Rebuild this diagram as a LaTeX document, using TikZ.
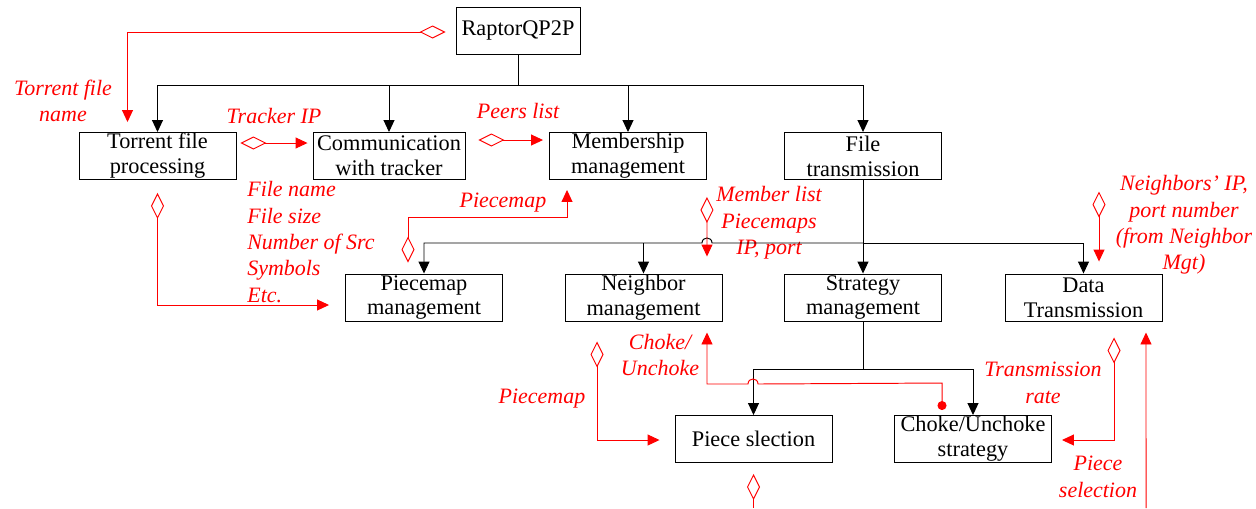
\documentclass[tikz,border=0pt]{standalone}
\usepackage{fontspec}
\setmainfont{Liberation Serif}
\usetikzlibrary{arrows.meta}

\begin{document}
\begin{tikzpicture}
  [x=0.02cm,y=-0.02cm,line width=0.55pt,
  box/.style={draw,minimum width=3.14cm,minimum height=0.94cm,inner sep=0pt,
    align=center,font=\fontsize{12.7}{14.2}\selectfont},
  lbl/.style={red,align=center,font=\fontsize{12.5}{15}\selectfont\itshape},
  >={Triangle[length=0.24cm,width=0.22cm]}]

\tikzset{msg/.style={red,{Diamond[open,length=0.52cm,width=0.26cm]}->},
  msgin/.style={red,->},
  msgout/.style={red,{Diamond[open,length=0.52cm,width=0.26cm]}-},
  msgdot/.style={red,{Circle[length=0.18cm]}->}}

\useasboundingbox (0,0) rectangle (1256,508);

\node[box,minimum width=2.48cm] (raptor) at (518,30.5) {RaptorQP2P};
\node[box] (tfp) at (157.5,156) {Torrent file\\processing};
\node[box,minimum width=3.04cm] (cwt) at (389,156) {Communication\\with tracker};
\node[box] (mem) at (628,156) {Membership\\management};
\node[box] (ftr) at (863,156) {File\\transmission};
\node[box] (pmm) at (424,297.5) {Piecemap\\management};
\node[box] (nbm) at (643.5,297.5) {Neighbor\\management};
\node[box] (stm) at (863,297.5) {Strategy\\management};
\node[box] (dtr) at (1083.5,297.5) {Data\\Transmission};
\node[box] (psl) at (753.5,439) {Piece slection};
\node[box] (cus) at (973,439) {Choke/Unchoke\\strategy};

\node[lbl] (tfname) at (63,101) {Torrent file\\name};
\node[lbl] (trip) at (274,116) {Tracker IP};
\node[lbl] (peers) at (518,111) {Peers list};
\node[lbl,align=left,anchor=west] (tfinfo) at (241,242) {File name\\File size\\Number of Src\\Symbols\\Etc.};
\node[lbl] (pmap1) at (503,203) {Piecemap};
\node[lbl] (mlist) at (769,223) {Member list\\Piecemaps\\IP, port};
\node[lbl] (nbip) at (1184,225) {Neighbors' IP,\\port number\\(from Neighbor\\Mgt)};
\node[lbl] (choke) at (660,355) {Choke/\\Unchoke};
\node[lbl] (pmap2) at (542,399) {Piecemap};
\node[lbl] (trate) at (1043,383) {Transmission\\rate};
\node[lbl] (psel) at (1098,477) {Piece\\selection};

\coordinate (topbus) at (518,85);
\coordinate (midbus) at (863,243);
\coordinate (lowbus) at (863,369);
\coordinate (psin) at (1146,508);
\coordinate (psout) at (753.5,508);

\draw (raptor) -- (topbus);
\foreach \c in {tfp,cwt,mem,ftr}
  \draw[->] (topbus) -| (\c.north);
\draw[->] (ftr) -- (stm);
\draw[->] (midbus) -- (712,243) .. controls (712,236.3) and (702,236.3) .. (702,243) -| (pmm.north);
\draw[->] (midbus -| nbm.north) -- (nbm.north);
\draw[->] (midbus) -| (dtr.north);
\draw (stm) -- (lowbus);
\draw[->] (lowbus) -| (psl.north);
\draw[->] (lowbus) -| (cus.north);

\draw[msg] ([shift={(-0.2cm,-0.03cm)}]raptor.west) -| ([shift={(-0.6cm,0.2cm)}]tfp.north);
\draw[msg] ([shift={(0.08cm,0.26cm)}]tfp.east) -- ([shift={(-0.1cm,0.26cm)}]cwt.west);
\draw[msg] ([shift={(0.26cm,0.32cm)}]cwt.east) -- ([shift={(-0.12cm,0.32cm)}]mem.west);
\draw[msg] ([yshift=-0.26cm]tfp.south) |- ([shift={(-0.32cm,-0.15cm)}]pmm.west);
\draw[msg] ([shift={(-0.32cm,0.22cm)}]pmm.north) -- ++(0,-45) -| ([shift={(-1.22cm,-0.2cm)}]mem.south);
\draw[msg] ([yshift=-0.34cm]mem.south east) -- ([shift={(1.27cm,0.34cm)}]nbm.north);
\draw[msg] ([shift={(0.31cm,1.64cm)}]dtr.north) -- ([shift={(0.31cm,0.24cm)}]dtr.north);
\draw[msg] ([shift={(-0.93cm,-0.4cm)}]nbm.south) |- ([shift={(-0.3cm,-0.02cm)}]psl.west);
\draw[msgdot] ([shift={(-0.62cm,0.1cm)}]cus.north) -- ++(0,-27) -- (758,384)
  .. controls (758,377.3) and (748,377.3) .. (748,384) -| ([shift={(1.27cm,-0.22cm)}]nbm.south);
\draw[msg] ([shift={(0.61cm,-0.32cm)}]dtr.south) |- ([shift={(0.2cm,-0.02cm)}]cus.east);
\draw[msgin] (psin) -- ([shift={(1.25cm,-0.22cm)}]dtr.south);
\draw[msgout] ([yshift=-0.22cm]psl.south) -- (psout);
\end{tikzpicture}
\end{document}
